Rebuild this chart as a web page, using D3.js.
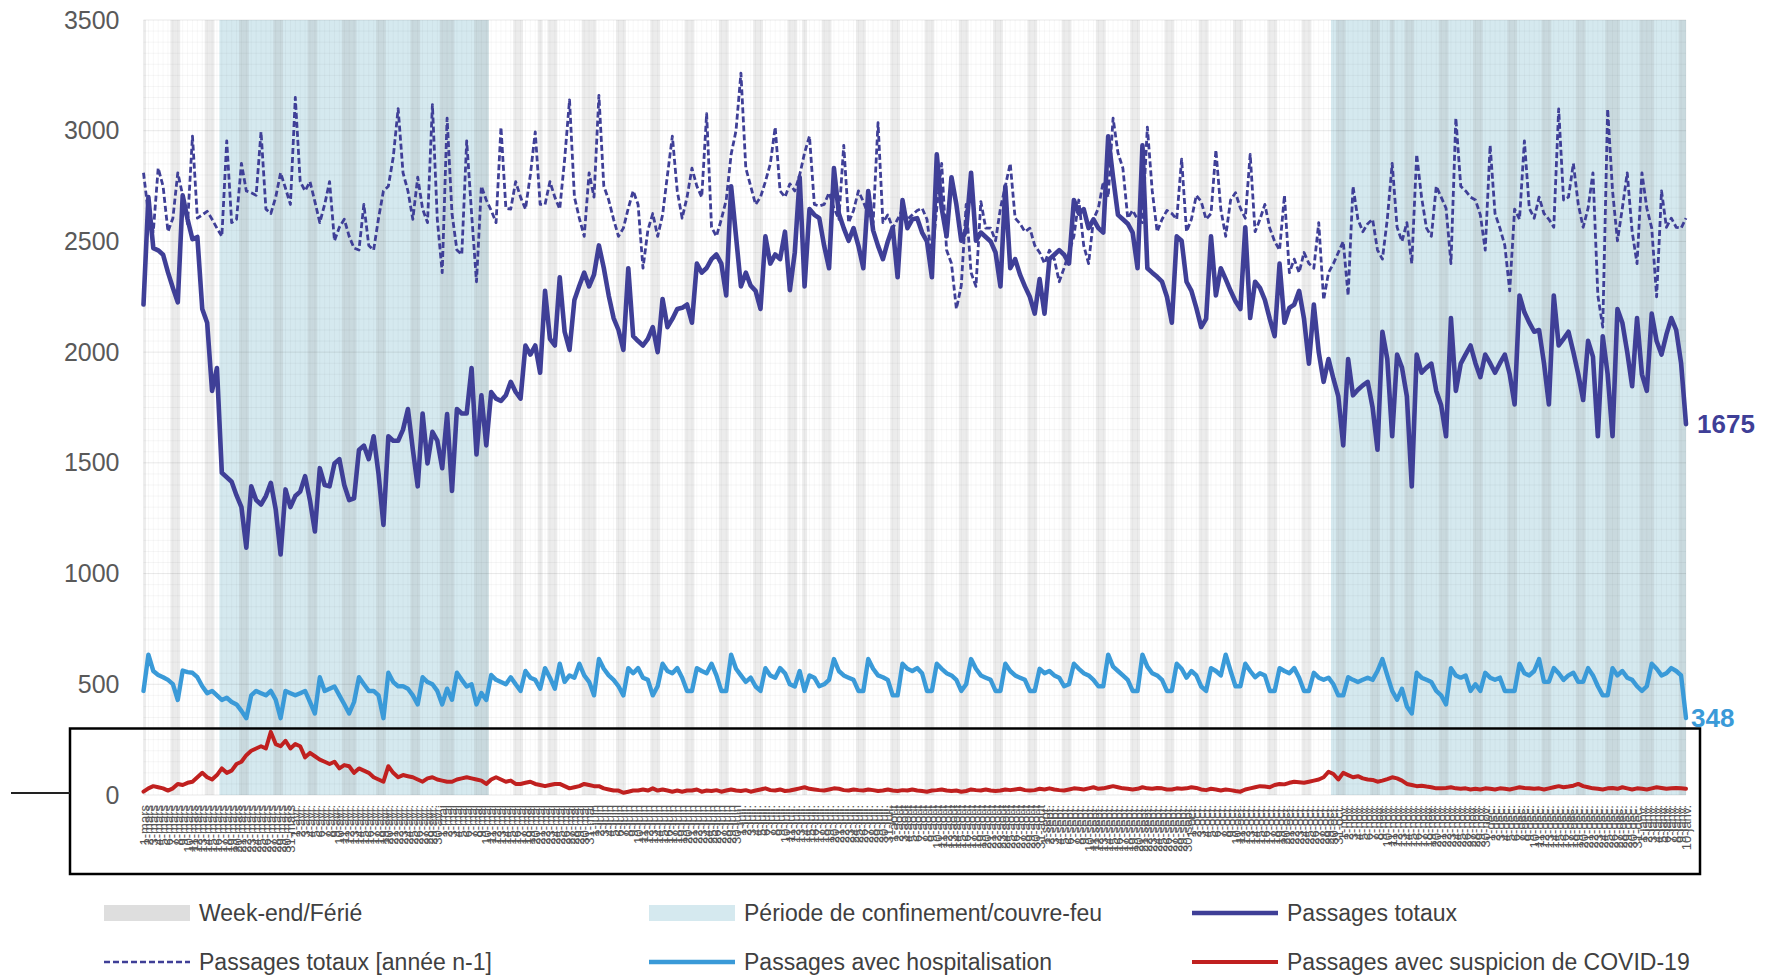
<!DOCTYPE html>
<html><head><meta charset="utf-8">
<script src="https://cdnjs.cloudflare.com/ajax/libs/d3/7.8.5/d3.min.js"></script>
<style>body{margin:0;background:#fff;} svg{display:block;font-family:"Liberation Sans",Arial,sans-serif;}</style>
</head><body><svg id="c" width="1771" height="976"></svg>
<script>
// ---------- DATA (daily, 1 March 2020 -> 10 January 2021) ----------
const startDate = [2020, 2, 1];
const totaux = [
2215,2700,2470,2460,2440,2360,2290,
2225,2708,2600,2510,2520,2195,2133,
1825,1928,1455,1435,1415,1353,1300,
1117,1394,1332,1312,1350,1410,1290,
1086,1380,1300,1350,1370,1440,1330,
1190,1476,1400,1394,1497,1517,1400,
1332,1340,1558,1578,1517,1620,1450,
1220,1620,1600,1600,1650,1743,1560,
1394,1723,1497,1640,1600,1476,1720,
1373,1743,1723,1723,1928,1538,1805,
1579,1820,1790,1780,1805,1866,1820,
1790,2030,1989,2030,1907,2277,2060,
2030,2338,2092,2010,2236,2300,2359,
2297,2350,2482,2380,2256,2154,2100,
2010,2379,2072,2050,2030,2060,2113,
2000,2240,2113,2150,2195,2200,2215,
2133,2400,2359,2380,2420,2441,2400,
2256,2749,2523,2297,2359,2300,2277,
2195,2523,2400,2441,2420,2544,2280,
2450,2790,2297,2646,2620,2605,2480,
2379,2831,2626,2560,2503,2560,2480,
2379,2728,2550,2480,2420,2500,2564,
2338,2687,2560,2600,2605,2540,2500,
2338,2893,2650,2523,2790,2667,2503,
2550,2810,2503,2540,2520,2500,2450,
2297,2749,2379,2420,2350,2297,2250,
2174,2330,2174,2420,2440,2461,2440,
2400,2687,2626,2646,2560,2600,2560,
2540,2975,2790,2620,2600,2580,2540,
2379,2934,2379,2359,2340,2318,2250,
2133,2523,2503,2318,2277,2200,2113,
2150,2523,2256,2379,2330,2277,2230,
2195,2564,2154,2318,2290,2236,2150,
2072,2400,2133,2200,2215,2277,2150,
1948,2215,2000,1866,1969,1880,1800,
1579,1969,1805,1830,1850,1866,1750,
1559,2092,1969,1620,1989,1930,1800,
1394,1989,1907,1930,1948,1825,1760,
1620,2154,1825,1948,1990,2030,1950,
1887,1989,1950,1907,1950,1989,1900,
1764,2256,2180,2133,2092,2100,1950,
1764,2256,2030,2060,2092,2000,1900,
1784,2051,1980,1620,2072,1900,1620,
2195,2133,2000,1846,2154,1900,1825,
2174,2050,1989,2080,2154,2100,1950,
1675];
const totauxN1 = [
2810,2626,2544,2831,2749,2544,2605,
2810,2708,2580,2975,2605,2620,2636,
2600,2560,2523,2954,2585,2600,2852,
2728,2720,2708,2995,2646,2626,2700,
2810,2740,2667,3150,2770,2728,2770,
2680,2585,2667,2770,2503,2564,2600,
2523,2470,2461,2667,2482,2461,2605,
2728,2749,2880,3100,2810,2728,2600,
2790,2646,2585,3118,2600,2359,3057,
2626,2461,2441,2954,2626,2318,2749,
2687,2640,2585,3016,2650,2646,2770,
2700,2646,2800,2995,2667,2667,2770,
2700,2646,2870,3139,2700,2605,2523,
2810,2700,3160,2750,2687,2600,2523,
2560,2650,2728,2667,2379,2550,2626,
2523,2620,2800,2975,2728,2605,2700,
2831,2750,2700,3077,2564,2523,2600,
2687,2893,3000,3260,2831,2749,2667,
2700,2770,2850,3016,2728,2700,2760,
2728,2800,2900,2975,2667,2660,2667,
2720,2650,2600,2934,2585,2640,2728,
2680,2620,2585,3036,2585,2620,2560,
2600,2646,2600,2620,2640,2650,2600,
2420,2650,2852,2461,2400,2195,2300,
2667,2359,2297,2680,2560,2560,2503,
2650,2750,2852,2605,2580,2544,2560,
2482,2450,2400,2460,2420,2318,2380,
2450,2523,2687,2482,2400,2600,2650,
2770,2700,3057,2900,2831,2605,2640,
2600,2585,3016,2728,2544,2600,2640,
2626,2600,2872,2544,2600,2708,2680,
2600,2626,2913,2646,2523,2687,2720,
2650,2605,2893,2544,2600,2667,2560,
2500,2461,2708,2359,2420,2359,2450,
2400,2379,2585,2236,2359,2400,2450,
2500,2256,2749,2600,2544,2580,2600,
2461,2420,2600,2852,2564,2500,2585,
2400,2893,2700,2560,2523,2749,2700,
2650,2400,3057,2749,2728,2700,2687,
2620,2461,2934,2626,2560,2482,2277,
2646,2600,2954,2650,2605,2700,2626,
2600,2564,3098,2687,2700,2852,2667,
2564,2650,2810,2256,2113,3098,2728,
2503,2650,2810,2544,2400,2810,2650,
2560,2250,2728,2564,2605,2564,2560,
2605];
const hospit = [
470,634,560,542,532,520,501,
429,562,555,552,532,491,460,
470,450,429,439,420,409,380,
347,450,470,460,450,470,430,
347,470,460,450,460,470,420,
368,532,470,480,490,450,410,
368,420,532,500,470,470,450,
347,552,510,491,491,480,450,
409,532,510,500,470,409,480,
430,552,520,490,500,409,460,
429,542,520,510,500,532,500,
470,560,530,520,480,573,530,
480,593,511,540,530,593,540,
511,450,614,570,540,520,491,
450,573,550,573,530,520,450,
491,593,560,550,573,530,470,
470,573,560,550,593,540,470,
470,634,570,540,511,530,490,
470,573,540,530,573,550,500,
490,560,470,540,530,491,500,
520,614,560,540,530,520,470,
470,614,570,540,532,520,450,
450,593,570,560,573,550,470,
470,593,570,550,540,520,470,
500,614,570,540,530,520,470,
470,593,560,540,530,520,470,
470,570,550,560,540,530,491,
500,593,570,550,540,520,491,
491,634,580,560,540,520,470,
470,634,580,550,540,520,470,
470,593,570,530,560,540,490,
470,573,560,540,634,560,491,
491,593,560,532,550,540,470,
470,573,560,550,573,530,470,
470,552,530,520,530,500,450,
450,532,520,510,520,530,520,
560,614,540,470,430,480,400,
368,552,530,520,510,470,450,
409,573,540,530,540,470,500,
470,552,530,520,530,470,470,
470,593,550,540,560,614,511,
511,573,550,520,540,552,511,
511,573,540,491,450,450,573,
540,560,530,520,491,470,491,
593,570,540,550,573,560,540,
348];
const covid = [
15,30,40,35,30,20,30,
50,45,55,60,80,100,80,
70,90,120,100,110,140,150,
180,200,210,220,210,285,230,
220,245,210,230,220,170,190,
175,160,150,140,150,120,135,
130,100,120,110,100,80,70,
60,130,100,80,90,85,80,
70,60,75,80,70,65,60,
60,70,75,80,75,70,65,
50,70,80,70,60,65,50,
50,55,60,50,45,40,45,
50,50,40,30,35,40,50,
45,40,40,30,25,20,20,
10,15,20,20,25,20,30,
20,25,20,15,20,15,20,
20,25,15,20,18,22,15,
20,25,20,18,22,15,20,
25,30,22,20,25,18,20,
25,30,35,28,25,22,20,
25,30,28,22,20,25,22,
20,25,22,18,20,25,20,
18,22,20,25,20,18,15,
20,22,25,20,18,20,15,
18,25,22,20,25,20,18,
20,25,22,25,28,22,20,
22,28,25,30,25,22,20,
25,30,28,25,30,35,28,
30,35,40,35,30,28,25,
28,35,30,28,32,30,25,
25,30,28,30,35,32,25,
22,28,25,20,25,22,18,
15,25,30,35,40,38,35,
45,50,48,55,60,58,55,
60,65,70,80,105,95,70,
100,90,80,85,75,70,68,
60,65,72,80,75,65,50,
45,40,42,38,35,30,30,
32,35,30,28,30,25,28,
25,30,28,25,30,28,25,
30,35,32,30,28,30,25,
30,35,40,35,38,42,50,
40,35,30,28,25,30,32,
28,35,30,25,30,28,25,
30,35,32,28,30,32,30,
28];
const yTicks = [0, 500, 1000, 1500, 2000, 2500, 3000, 3500];
const holidays = ["2020-04-13","2020-05-01","2020-05-08","2020-05-21","2020-06-01","2020-07-14","2020-08-15","2020-11-01","2020-11-11","2020-12-25","2021-01-01"];
const confinements = [["2020-03-17","2020-05-10"], ["2020-10-30","2021-01-10"]];
const moisFr = ["janv.","févr.","mars","avr.","mai","juin","juil.","août","sept.","oct.","nov.","déc."];
const legendLabels = ["Week-end/Férié","Période de confinement/couvre-feu","Passages totaux",
                      "Passages totaux [année n-1]","Passages avec hospitalisation","Passages avec suspicion de COVID-19"];

// ---------- CHART ----------
const C = {tot:"#3f3f97", hosp:"#3a9ad8", cov:"#c0201f", conf:"#d5e9ef", we:"rgba(140,140,140,0.17)"};
const svg = d3.select("#c");
const N = totaux.length;
const t0 = Date.UTC(startDate[0], startDate[1], startDate[2]);
const dates = d3.range(N).map(i => new Date(t0 + i*864e5));
const iso = d => d.toISOString().slice(0,10);
const idxOf = s => Math.round((Date.parse(s+"T00:00:00Z") - t0)/864e5);

const L = 143.5, R = 1686, T = 20, B = 795;
const x = d3.scaleLinear().domain([0, N-1]).range([L, R]);
const y = d3.scaleLinear().domain([0, 3500]).range([B, T]);
const cx = v => Math.max(L, Math.min(R, v));

const gBands = svg.append("g");
confinements.forEach(([a,b]) => {
  const x0 = cx(x(idxOf(a)-0.5)), x1 = cx(x(idxOf(b)+0.5));
  gBands.append("rect").attr("x",x0).attr("y",T).attr("width",x1-x0).attr("height",B-T).attr("fill",C.conf);
});
const hol = new Set(holidays);
dates.forEach((d,i) => {
  const wd = d.getUTCDay();
  if (wd===0 || wd===6 || hol.has(iso(d))) {
    const x0 = cx(x(i-0.5)), x1 = cx(x(i+0.5));
    gBands.append("rect").attr("x",x0).attr("y",T).attr("width",x1-x0).attr("height",B-T).attr("fill",C.we);
  }
});

// fine background grid
const gGrid = svg.append("g");
d3.range(0, 3501, 50).forEach(v => {
  gGrid.append("line").attr("x1",L).attr("x2",R).attr("y1",y(v)).attr("y2",y(v))
    .attr("stroke", v%500===0 ? "rgba(0,0,0,0.09)" : "rgba(0,0,0,0.04)").attr("stroke-width",1);
});
d3.range(N).forEach(i => {
  gGrid.append("line").attr("x1",x(i)).attr("x2",x(i)).attr("y1",T).attr("y2",B)
    .attr("stroke","rgba(0,0,0,0.03)").attr("stroke-width",1);
});

const line = d3.line().x((d,i)=>x(i)).y(d=>y(d));
const gLines = svg.append("g").attr("fill","none").attr("stroke-linejoin","round").attr("stroke-linecap","round");
gLines.append("path").datum(totaux).attr("d",line).attr("stroke",C.tot).attr("stroke-width",4.6);
gLines.append("path").datum(totauxN1).attr("d",line).attr("stroke",C.tot).attr("stroke-width",2.8)
  .attr("stroke-dasharray","6,3").attr("stroke-linecap","butt");
gLines.append("path").datum(hospit).attr("d",line).attr("stroke",C.hosp).attr("stroke-width",4.4);
gLines.append("path").datum(covid).attr("d",line).attr("stroke",C.cov).attr("stroke-width",4);

// end labels
svg.append("text").attr("x",1697).attr("y",y(totaux[N-1])+9).text(totaux[N-1])
  .attr("font-size",26).attr("font-weight","bold").attr("fill",C.tot);
svg.append("text").attr("x",1691).attr("y",y(hospit[N-1])+9).text(hospit[N-1])
  .attr("font-size",26).attr("font-weight","bold").attr("fill",C.hosp);

// axes
const yAx = svg.append("g").attr("transform",`translate(${L},0)`)
  .call(d3.axisLeft(y).tickValues(yTicks).tickSize(0).tickPadding(24).tickFormat(d3.format("d")));
yAx.select(".domain").remove();
yAx.selectAll("text").attr("font-size",25).attr("fill","#595959").attr("font-family","Liberation Sans, Arial, sans-serif");

const xAx = svg.append("g").attr("transform",`translate(0,${B})`)
  .call(d3.axisBottom(x).tickValues(d3.range(N)).tickSize(0)
    .tickFormat(i => `${dates[i].getUTCDate()}-${moisFr[dates[i].getUTCMonth()]}`));
xAx.select(".domain").remove();
xAx.selectAll("text").attr("transform","rotate(-90)").attr("x",-10).attr("y",0).attr("dy","0.35em")
  .style("text-anchor","end").attr("font-size",13).attr("fill","#555")
  .attr("font-family","Liberation Sans, Arial, sans-serif");

// legend
const lg = svg.append("g").attr("font-size",23).attr("fill","#404040");
const rows = [913, 962], cols = [104, 649, 1192], sw = 86;
const items = [
  {t:"rect", c:"#dedede"}, {t:"rect", c:C.conf}, {t:"line", c:C.tot, w:4.4},
  {t:"line", c:C.tot, w:2.6, dash:"6,3"}, {t:"line", c:C.hosp, w:4.4}, {t:"line", c:C.cov, w:4}];
items.forEach((it,k) => {
  const cxp = cols[k%3], cy = rows[Math.floor(k/3)];
  if (it.t==="rect") lg.append("rect").attr("x",cxp).attr("y",cy-8).attr("width",sw).attr("height",16).attr("fill",it.c);
  else lg.append("line").attr("x1",cxp).attr("x2",cxp+sw).attr("y1",cy).attr("y2",cy)
    .attr("stroke",it.c).attr("stroke-width",it.w).attr("stroke-dasharray",it.dash||null);
  lg.append("text").attr("x",cxp+sw+9).attr("y",cy+8).text(legendLabels[k]);
});

// highlight box
svg.append("rect").attr("x",70).attr("y",728.5).attr("width",1630).attr("height",145.5)
  .attr("fill","none").attr("stroke","#000").attr("stroke-width",2.5);
svg.append("line").attr("x1",11).attr("x2",70).attr("y1",793).attr("y2",793).attr("stroke","#222").attr("stroke-width",2);
</script></body></html>
